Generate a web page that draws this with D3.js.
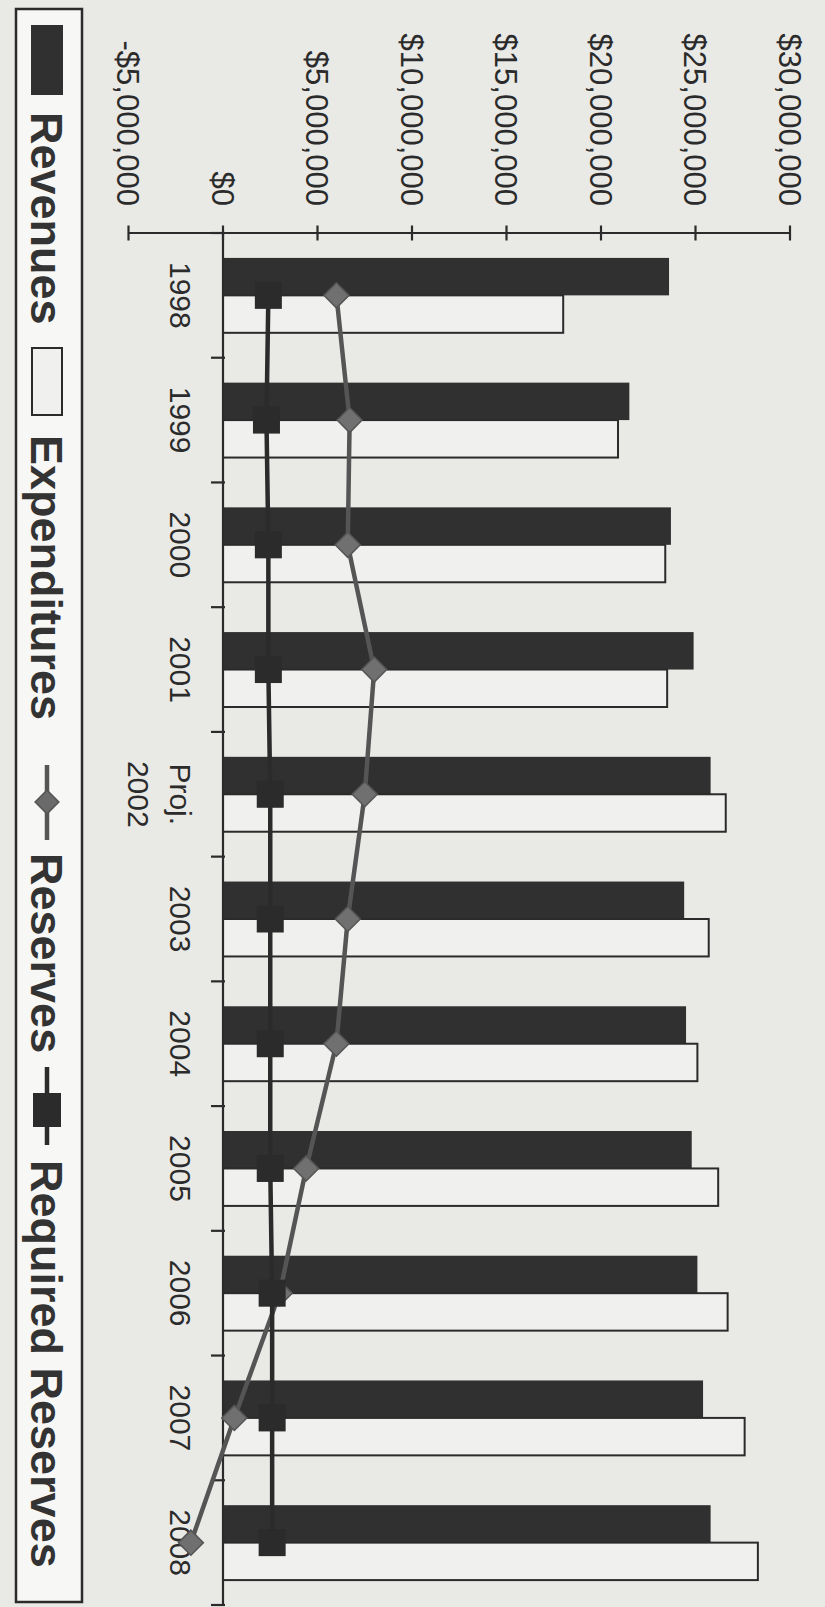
<!DOCTYPE html>
<html>
<head>
<meta charset="utf-8">
<script src="https://cdn.jsdelivr.net/npm/d3@7"></script>
<style>
  html, body { margin: 0; padding: 0; background: #e9e9e6; }
  svg { display: block; }
</style>
</head>
<body>
<svg id="chart" width="825" height="1607"></svg>
<script>
// ---------- data ----------
const categories = ["1998", "1999", "2000", "2001", "Proj.\n2002", "2003", "2004", "2005", "2006", "2007", "2008"];
const revenues     = [23600000, 21500000, 23700000, 24900000, 25800000, 24400000, 24500000, 24800000, 25100000, 25400000, 25800000];
const expenditures = [18000000, 20900000, 23400000, 23500000, 26600000, 25700000, 25100000, 26200000, 26700000, 27600000, 28300000];
const reserves     = [6000000, 6700000, 6600000, 8000000, 7500000, 6600000, 6000000, 4400000, 3000000, 600000, -1700000];
const requiredReserves = [2400000, 2300000, 2400000, 2400000, 2500000, 2500000, 2500000, 2500000, 2600000, 2600000, 2600000];
const tickValues = [-5000000, 0, 5000000, 10000000, 15000000, 20000000, 25000000, 30000000];
const tickLabels = ["-$5,000,000", "$0", "$5,000,000", "$10,000,000", "$15,000,000", "$20,000,000", "$25,000,000", "$30,000,000"];
const legendLabels = ["Revenues", "Expenditures", "Reserves", "Required Reserves"];

// ---------- setup ----------
const W = 825, H = 1607;           // screen size
const ink = "#2b2b2b";
const font = "'Liberation Sans', Arial, Helvetica, sans-serif";

const svg = d3.select("#chart");
svg.append("rect").attr("width", W).attr("height", H).attr("fill", "#e9e9e6");

// The chart is drawn in "original" (unrotated) coordinates and rotated 90deg clockwise.
// original width = 1607 (screen height), original height = 825 (screen width)
const g = svg.append("g").attr("transform", `translate(${W},0) rotate(90)`);

const idx = d3.range(categories.length);
const x = d3.scaleBand().domain(idx).range([233, 1605]).padding(0);
const y = d3.scaleLinear().domain([-5000000, 30000000]).range([825 - 128.5, 825 - 790]);
const xc = i => x(i) + x.bandwidth() / 2;

const bw = x.bandwidth();
const barW = bw / 3.33;
const groupStart = i => x(i) + (bw - 2 * barW) / 2;

// ---------- bars ----------
g.append("g").selectAll("rect").data(revenues).join("rect")
  .attr("x", (d, i) => groupStart(i))
  .attr("width", barW)
  .attr("y", d => y(Math.max(0, d)))
  .attr("height", d => Math.abs(y(d) - y(0)))
  .attr("fill", "#303030");

g.append("g").selectAll("rect").data(expenditures).join("rect")
  .attr("x", (d, i) => groupStart(i) + barW)
  .attr("width", barW)
  .attr("y", d => y(Math.max(0, d)))
  .attr("height", d => Math.abs(y(d) - y(0)))
  .attr("fill", "#f0f0ee")
  .attr("stroke", ink)
  .attr("stroke-width", 2);

// ---------- axes ----------
const axisX0 = 233;
// value axis
g.append("line")
  .attr("x1", axisX0).attr("x2", axisX0)
  .attr("y1", y(-5000000)).attr("y2", y(30000000))
  .attr("stroke", ink).attr("stroke-width", 2.2);
g.append("g").selectAll("line").data(tickValues).join("line")
  .attr("x1", axisX0 - 7.5).attr("x2", axisX0 + 7.5)
  .attr("y1", d => y(d)).attr("y2", d => y(d))
  .attr("stroke", ink).attr("stroke-width", 2.2);
g.append("g").selectAll("text").data(tickValues).join("text")
  .attr("x", 206)
  .attr("y", d => y(d))
  .attr("dy", "0.36em")
  .attr("text-anchor", "end")
  .attr("font-family", font)
  .attr("font-size", 31)
  .attr("fill", ink)
  .text((d, i) => tickLabels[i]);

// category axis (crosses at $0)
g.append("line")
  .attr("x1", 233).attr("x2", 1605)
  .attr("y1", y(0)).attr("y2", y(0))
  .attr("stroke", ink).attr("stroke-width", 2.2);
const bounds = idx.map(i => x(i)).concat([x(idx.length - 1) + bw]);
g.append("g").selectAll("line").data(bounds).join("line")
  .attr("x1", d => d).attr("x2", d => d)
  .attr("y1", y(0) - 2).attr("y2", y(0) + 12)
  .attr("stroke", ink).attr("stroke-width", 2.2);
const catText = g.append("g").selectAll("text").data(categories).join("text")
  .attr("x", (d, i) => xc(i))
  .attr("y", 655)
  .attr("text-anchor", "middle")
  .attr("font-family", font)
  .attr("font-size", 30)
  .attr("fill", ink);
catText.each(function(d) {
  const lines = d.split("\n");
  const t = d3.select(this);
  lines.forEach((ln, k) => {
    t.append("tspan").attr("x", t.attr("x")).attr("dy", k === 0 ? 0 : 42).text(ln);
  });
});

// ---------- lines ----------
const line = d3.line().x((d, i) => xc(i)).y(d => y(d));

g.append("path").datum(reserves)
  .attr("d", line)
  .attr("fill", "none")
  .attr("stroke", "#555555")
  .attr("stroke-width", 4.5);
g.append("g").selectAll("path").data(reserves).join("path")
  .attr("d", d3.symbol().type(d3.symbolDiamond2).size(400))
  .attr("transform", (d, i) => `translate(${xc(i)},${y(d)})`)
  .attr("fill", "#707070")
  .attr("stroke", "#555555")
  .attr("stroke-width", 1.5);

g.append("path").datum(requiredReserves)
  .attr("d", line)
  .attr("fill", "none")
  .attr("stroke", ink)
  .attr("stroke-width", 4.5);
g.append("g").selectAll("rect").data(requiredReserves).join("rect")
  .attr("x", (d, i) => xc(i) - 13.5)
  .attr("y", d => y(d) - 13.5)
  .attr("width", 27).attr("height", 27)
  .attr("fill", ink);

// ---------- legend ----------
const lg = g.append("g");
lg.append("rect")
  .attr("x", 9).attr("y", 743).attr("width", 1593).attr("height", 66)
  .attr("fill", "#f7f7f5").attr("stroke", ink).attr("stroke-width", 2.5);

const keyY = 762, keyH = 32, keyC = 778, base = 794;
lg.append("rect").attr("x", 25).attr("y", keyY).attr("width", 70).attr("height", keyH).attr("fill", "#303030");
lg.append("rect").attr("x", 348).attr("y", keyY + 1).attr("width", 67).attr("height", keyH - 2)
  .attr("fill", "#f0f0ee").attr("stroke", ink).attr("stroke-width", 2);
lg.append("line").attr("x1", 765).attr("x2", 840).attr("y1", keyC).attr("y2", keyC)
  .attr("stroke", "#555555").attr("stroke-width", 4.5);
lg.append("path").attr("d", d3.symbol().type(d3.symbolDiamond2).size(360))
  .attr("transform", `translate(802,${keyC})`).attr("fill", "#6a6a6a").attr("stroke", "#555").attr("stroke-width", 1.5);
lg.append("line").attr("x1", 1067).attr("x2", 1145).attr("y1", keyC).attr("y2", keyC)
  .attr("stroke", ink).attr("stroke-width", 4.5);
lg.append("rect").attr("x", 1093).attr("y", keyC - 14).attr("width", 34).attr("height", 28).attr("fill", ink);

const legendX = [112, 435, 853, 1160];
lg.selectAll("text.lt").data(legendLabels).join("text")
  .attr("class", "lt")
  .attr("x", (d, i) => legendX[i])
  .attr("y", base)
  .attr("font-family", font)
  .attr("font-size", 45)
  .attr("font-weight", "bold")
  .attr("fill", "#333333")
  .text(d => d);
</script>
</body>
</html>
